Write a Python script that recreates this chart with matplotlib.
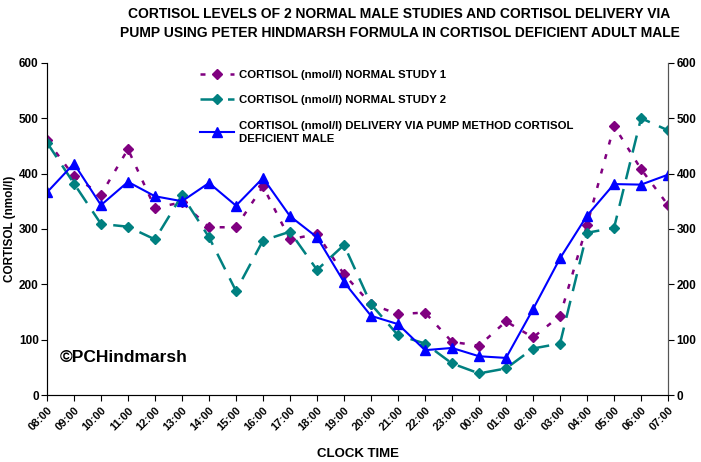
import matplotlib.pyplot as plt
import numpy as np

plt.rcParams['font.family'] = ['Liberation Sans', 'DejaVu Sans']

times = ['08:00', '09:00', '10:00', '11:00', '12:00', '13:00', '14:00', '15:00',
         '16:00', '17:00', '18:00', '19:00', '20:00', '21:00', '22:00', '23:00',
         '00:00', '01:00', '02:00', '03:00', '04:00', '05:00', '06:00', '07:00']

# cortisol (nmol/l)
study1 = [460, 395, 362, 444, 338, 348, 303, 303, 377, 281, 291, 218,
          164, 146, 149, 96, 89, 133, 104, 143, 307, 486, 408, 343]
study2 = [456, 382, 309, 304, 281, 361, 285, 188, 279, 295, 226, 271,
          164, 108, 93, 57, 39, 48, 84, 93, 293, 302, 500, 478]
pump = [366, 418, 343, 385, 359, 350, 383, 342, 392, 323, 285, 204,
        143, 128, 81, 85, 70, 67, 155, 247, 324, 381, 380, 398]

x = np.arange(len(times))

fig = plt.figure(figsize=(7.01, 4.62), dpi=100)
ax = fig.add_axes([0.067, 0.145, 0.886, 0.719])

ax.plot(x, study1, color='#800080', linestyle=(0, (2, 4)), linewidth=1.8,
        marker='D', markersize=5, label='CORTISOL (nmol/l) NORMAL STUDY 1')
ax.plot(x, study2, color='#008080', linestyle=(0, (7, 4)), linewidth=1.8,
        marker='D', markersize=5, label='CORTISOL (nmol/l) NORMAL STUDY 2')
ax.plot(x, pump, color='#0000FF', linestyle='-', linewidth=1.5,
        marker='^', markersize=7,
        label='CORTISOL (nmol/l) DELIVERY VIA PUMP METHOD CORTISOL\nDEFICIENT MALE')

ax.set_xlim(0, len(times) - 1)
ax.set_ylim(0, 600)
ax.set_yticks(range(0, 601, 100))
ax.set_xticks(x)
ax.set_xticklabels(times, rotation=45, ha='right', rotation_mode='anchor',
                   fontsize=8, fontweight='bold')
ax.tick_params(axis='y', labelsize=8.5, direction='out', length=4, pad=2)
for lab in ax.get_yticklabels():
    lab.set_fontweight('bold')
ax.tick_params(axis='x', direction='out', length=4)
ax.spines['top'].set_visible(False)
for s in ['left', 'bottom', 'right']:
    ax.spines[s].set_color('#555555')

ax2 = ax.twinx()
ax2.set_ylim(0, 600)
ax2.set_yticks(range(0, 601, 100))
ax2.tick_params(axis='y', labelsize=8.5, direction='out', length=4, pad=2)
for lab in ax2.get_yticklabels():
    lab.set_fontweight('bold')
ax2.spines['top'].set_visible(False)
ax2.spines['right'].set_color('#555555')

ax.set_ylabel('CORTISOL (nmol/l)', fontsize=8.5, fontweight='bold')
ax.yaxis.set_label_coords(-0.05, 0.5)
ax.set_xlabel('CLOCK TIME', fontsize=9.5, fontweight='bold', labelpad=11)

fig.suptitle('CORTISOL LEVELS OF 2 NORMAL MALE STUDIES AND CORTISOL DELIVERY VIA\n'
             'PUMP USING PETER HINDMARSH FORMULA IN CORTISOL DEFICIENT ADULT MALE',
             x=0.57, y=0.985, fontsize=10, fontweight='bold', linespacing=1.5)

leg = ax.legend(loc='upper left', bbox_to_anchor=(0.23, 1.01), frameon=False,
                fontsize=8.2, handlelength=3, handletextpad=0.4, labelspacing=1.35)
for t in leg.get_texts():
    t.set_fontweight('bold')
    t.set_linespacing(1.4)

ax.text(0.02, 67, '©PCHindmarsh', transform=ax.get_yaxis_transform(),
        fontsize=12.5, fontweight='bold', va='center')

plt.savefig('out.png', dpi=100)
